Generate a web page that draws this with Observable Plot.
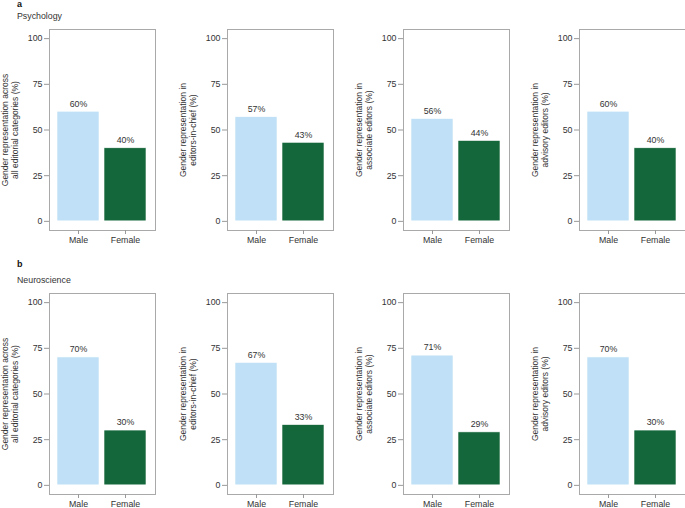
<!DOCTYPE html>
<html>
<head>
<meta charset="utf-8">
<script src="https://cdn.jsdelivr.net/npm/d3@7"></script>
<script src="https://cdn.jsdelivr.net/npm/@observablehq/plot@0.6"></script>
<style>
  body { margin: 0; background: white; font-family: "Liberation Sans", Arial, sans-serif; color: #333; }
  #chart { position: relative; width: 685px; height: 508px; overflow: hidden; }
  .panel { position: absolute; }
  .tag { position: absolute; font-weight: bold; font-size: 9px; line-height: 9px; color: #111; }
  .sub { position: absolute; font-size: 8.8px; line-height: 11px; color: #333; }
</style>
</head>
<body>
<div id="chart"></div>
<script>
// categories and colours
const categories = ["Male", "Female"];
const colors = ["#bfe0f6", "#14673a"];

// y axis labels, one per column
const yLabels = [
  "Gender representation across\nall editorial categories (%)",
  "Gender representation in\neditors-in-chief (%)",
  "Gender representation in\nassociate editors (%)",
  "Gender representation in\nadvisory editors (%)"
];

// percentages [Male, Female] per column
const psychology = [[60, 40], [57, 43], [56, 44], [60, 40]];
const neuroscience = [[70, 30], [67, 33], [71, 29], [70, 30]];

const yTicks = [0, 25, 50, 75, 100];

const chart = document.querySelector("#chart");

// frame left edge of each column
const frameLeft = [49, 227, 403, 579];

function addText(cls, txt, x, y) {
  const d = document.createElement("div");
  d.className = cls;
  d.textContent = txt;
  d.style.left = x + "px";
  d.style.top = y + "px";
  chart.appendChild(d);
}

function panel(values, label, left, top) {
  const rows = categories.map((c, i) => ({cat: c, value: values[i]}));
  const p = Plot.plot({
    width: 156,
    height: 226,
    marginLeft: 49,
    marginRight: 1,
    marginTop: 9,
    marginBottom: 16,
    style: {fontFamily: "Liberation Sans, Arial, sans-serif", fontSize: "8.8px", color: "#333", background: "transparent", overflow: "visible"},
    x: {domain: categories, paddingInner: 0.104, paddingOuter: 0.167, axis: null},
    y: {domain: [-5, 105], axis: null},
    color: {domain: categories, range: colors},
    marks: [
      Plot.frame({stroke: "#a9a9a9"}),
      Plot.barY(rows, {x: "cat", y1: 0, y2: "value", fill: "cat", stroke: "white", strokeWidth: 0.6}),
      Plot.text(rows, {x: "cat", y: "value", text: d => d.value + "%", dy: -8, fill: "#333"}),
      Plot.axisY(yTicks, {tickSize: 5, tickPadding: 2, stroke: "#999", fill: "#333", label: null}),
      Plot.axisX(categories, {tickSize: 4, tickPadding: 2.5, stroke: "#999", fill: "#333", label: null}),
      Plot.text([label], {frameAnchor: "left", textAnchor: "middle", rotate: -90, dx: -40, text: d => d, fontSize: 8.5, lineHeight: 1.18, fill: "#333"})
    ]
  });
  p.classList.add("panel");
  p.style.left = left + "px";
  p.style.top = top + "px";
  chart.appendChild(p);
}

addText("tag", "a", 17, 0);
addText("sub", "Psychology", 17, 11);
psychology.forEach((v, i) => panel(v, yLabels[i], frameLeft[i] - 49, 20));

addText("tag", "b", 17, 260);
addText("sub", "Neuroscience", 17, 275);
neuroscience.forEach((v, i) => panel(v, yLabels[i], frameLeft[i] - 49, 284));
</script>
</body>
</html>
